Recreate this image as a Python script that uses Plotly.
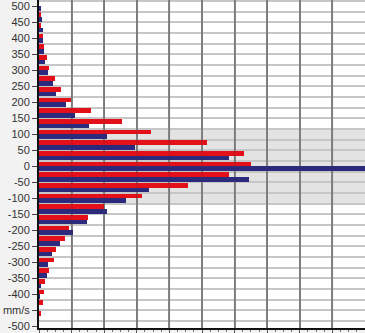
import plotly.graph_objects as go

# Bin centres (mm/s), bottom to top
bin_centers = [-500, -466.67, -433.33, -400, -366.67, -333.33, -300, -266.67, -233.33,
               -200, -166.67, -133.33, -100, -66.67, -33.33, 0, 33.33, 66.67, 100,
               133.33, 166.67, 200, 233.33, 266.67, 300, 333.33, 366.67, 400,
               433.33, 466.67, 500]

red_values = [0, 0.06, 0.11, 0.14, 0.17, 0.30, 0.47, 0.53, 0.80, 0.93, 1.49, 1.98,
              3.16, 4.58, 5.83, 6.51, 6.29, 5.15, 3.45, 2.56, 1.61, 0.99, 0.68,
              0.50, 0.30, 0.23, 0.14, 0.11, 0.04, 0.05, 0]

blue_values = [0, 0, 0, 0.03, 0.07, 0.24, 0.28, 0.41, 0.65, 1.04, 1.47, 2.10,
               2.67, 3.36, 6.45, 10.6, 5.84, 2.95, 2.10, 1.52, 1.10, 0.83, 0.53,
               0.42, 0.29, 0.17, 0.14, 0.11, 0.11, 0.09, 0.07]

tick_vals = list(range(-500, 501, 50))
tick_text = [("mm/s" if v == -450 else str(v)) for v in tick_vals]

band_low, band_high = -116.67, 116.67
x_grid = list(range(1, 10))

BIN = 100 / 3
BAR_W = 14.8

fig = go.Figure()
fig.add_trace(go.Bar(y=bin_centers, x=red_values, orientation="h",
                     width=BAR_W, offset=0, marker=dict(color="#e3101a", line=dict(width=0)),
                     showlegend=False))
fig.add_trace(go.Bar(y=bin_centers, x=blue_values, orientation="h",
                     width=BAR_W, offset=-BAR_W, marker=dict(color="#2c2a7c", line=dict(width=0)),
                     showlegend=False))

shapes = [dict(type="rect", xref="paper", yref="y", x0=0, x1=1, y0=band_low, y1=band_high,
               fillcolor="#e3e3e3", line=dict(width=0), layer="below")]
for gx in x_grid:
    shapes.append(dict(type="line", xref="x", yref="paper", x0=gx, x1=gx, y0=0, y1=1,
                       line=dict(color="rgba(60,60,60,0.22)", width=1.5), layer="above"))

fig.update_layout(
    width=365, height=333,
    margin=dict(l=39, r=0, t=0, b=5),
    paper_bgcolor="#f2f2f2",
    plot_bgcolor="#ffffff",
    barmode="overlay",
    bargap=0,
    shapes=shapes,
    showlegend=False,
    xaxis=dict(range=[0, 10], showticklabels=False, showgrid=True, gridcolor="#8c8c8c",
               gridwidth=2, dtick=1, tick0=0, zeroline=False,
               showline=True, linecolor="#111111", linewidth=2,
               ticks="outside", ticklen=3, tickcolor="#555555", tickwidth=1,
               minor=dict(dtick=0.25, tick0=0, ticks="outside", ticklen=2,
                          tickcolor="#777777", showgrid=False)),
    yaxis=dict(range=[-505, 520], tickvals=tick_vals, ticktext=tick_text,
               showgrid=False, zeroline=False,
               showline=True, linecolor="#111111", linewidth=2,
               ticks="outside", ticklen=5, tickcolor="#444444", tickwidth=1,
               tickfont=dict(family="Arial, Liberation Sans, sans-serif", size=11, color="#333333"),
               minor=dict(tick0=BIN / 2, dtick=BIN, showgrid=True, gridcolor="#c6c6c6",
                          gridwidth=1.5, ticks="")),
)

fig.write_html("out.html")
